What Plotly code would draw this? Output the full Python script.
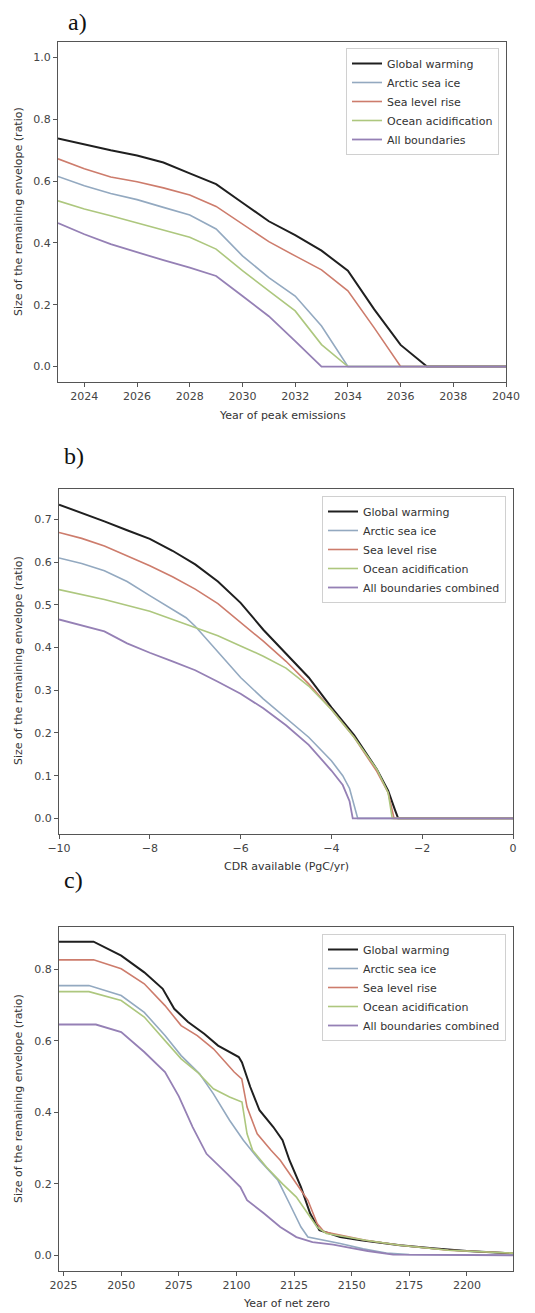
import plotly.graph_objects as go

# ---------------- Panel a: year of peak emissions ----------------
a_years = list(range(2023, 2041))
a_global = [0.738, 0.718, 0.700, 0.683, 0.660, 0.625, 0.590, 0.530, 0.470, 0.425, 0.375, 0.310, 0.185, 0.070, 0.0, 0.0, 0.0, 0.0]
a_arctic = [0.615, 0.585, 0.560, 0.540, 0.515, 0.490, 0.445, 0.358, 0.288, 0.228, 0.131, 0.0, 0.0, 0.0, 0.0, 0.0, 0.0, 0.0]
a_sealevel = [0.672, 0.640, 0.613, 0.598, 0.578, 0.555, 0.518, 0.461, 0.404, 0.358, 0.313, 0.245, 0.125, 0.0, 0.0, 0.0, 0.0, 0.0]
a_ocean = [0.536, 0.510, 0.488, 0.465, 0.442, 0.418, 0.380, 0.310, 0.245, 0.180, 0.071, 0.0, 0.0, 0.0, 0.0, 0.0, 0.0, 0.0]
a_all = [0.464, 0.428, 0.396, 0.369, 0.344, 0.320, 0.293, 0.228, 0.163, 0.082, 0.0, 0.0, 0.0, 0.0, 0.0, 0.0, 0.0, 0.0]

# ---------------- Panel b: CDR available ----------------
b_global_x = [-10, -9.5, -9, -8.5, -8, -7.5, -7, -6.5, -6, -5.5, -5, -4.5, -4, -3.5, -3, -2.75, -2.6, -2.53, 0]
b_global_y = [0.735, 0.716, 0.696, 0.675, 0.655, 0.627, 0.595, 0.555, 0.505, 0.442, 0.385, 0.330, 0.260, 0.195, 0.115, 0.065, 0.020, 0.0, 0.0]
b_arctic_x = [-10, -9.5, -9, -8.5, -8, -7.5, -7.2, -7, -6.75, -6.5, -6.25, -6, -5.5, -5, -4.5, -4, -3.75, -3.6, -3.5, -3.42, 0]
b_arctic_y = [0.610, 0.597, 0.580, 0.555, 0.522, 0.490, 0.470, 0.450, 0.420, 0.392, 0.360, 0.330, 0.280, 0.235, 0.190, 0.135, 0.100, 0.070, 0.030, 0.0, 0.0]
b_sealevel_x = [-10, -9.5, -9, -8.5, -8, -7.5, -7, -6.5, -6, -5.5, -5, -4.5, -4, -3.5, -3, -2.75, -2.62, 0]
b_sealevel_y = [0.670, 0.656, 0.638, 0.615, 0.592, 0.566, 0.537, 0.503, 0.460, 0.415, 0.368, 0.315, 0.255, 0.190, 0.110, 0.060, 0.0, 0.0]
b_ocean_x = [-10, -9, -8, -7, -6.5, -6, -5.5, -5, -4.5, -4, -3.5, -3, -2.75, -2.66, 0]
b_ocean_y = [0.536, 0.513, 0.485, 0.448, 0.428, 0.404, 0.380, 0.352, 0.310, 0.255, 0.190, 0.115, 0.060, 0.0, 0.0]
b_all_x = [-10, -9.5, -9, -8.5, -8, -7.5, -7, -6.5, -6, -5.5, -5, -4.5, -4.25, -4, -3.75, -3.6, -3.53, 0]
b_all_y = [0.466, 0.452, 0.438, 0.410, 0.388, 0.368, 0.347, 0.320, 0.292, 0.258, 0.218, 0.172, 0.142, 0.112, 0.078, 0.040, 0.0, 0.0]

# ---------------- Panel c: year of net zero ----------------
c_global_x = [2023, 2038, 2050, 2060, 2068, 2073, 2079, 2086, 2092, 2101, 2102.4, 2106, 2110, 2116, 2120, 2123, 2128, 2132, 2136, 2145, 2154, 2171, 2185, 2200, 2220]
c_global_y = [0.878, 0.878, 0.839, 0.792, 0.746, 0.690, 0.653, 0.620, 0.587, 0.555, 0.540, 0.471, 0.406, 0.359, 0.322, 0.266, 0.191, 0.117, 0.070, 0.051, 0.042, 0.028, 0.020, 0.012, 0.005]
c_arctic_x = [2023, 2036, 2050, 2060, 2069, 2076, 2084, 2090, 2097, 2103, 2110, 2118, 2123, 2128, 2131, 2136, 2145, 2155, 2165, 2175, 2220]
c_arctic_y = [0.755, 0.755, 0.727, 0.680, 0.615, 0.559, 0.508, 0.452, 0.378, 0.322, 0.266, 0.210, 0.145, 0.079, 0.051, 0.045, 0.033, 0.018, 0.006, 0.002, 0.0]
c_sealevel_x = [2023, 2038, 2050, 2060, 2069, 2076, 2083, 2090, 2099, 2102.3, 2104.6, 2109, 2115, 2119, 2125, 2131, 2135, 2138, 2156, 2171, 2192, 2220]
c_sealevel_y = [0.827, 0.827, 0.802, 0.760, 0.699, 0.643, 0.615, 0.578, 0.513, 0.494, 0.415, 0.340, 0.294, 0.266, 0.210, 0.154, 0.089, 0.066, 0.042, 0.028, 0.014, 0.006]
c_ocean_x = [2023, 2036, 2050, 2060, 2069, 2076, 2083, 2090, 2097, 2102.4, 2104.6, 2107, 2113, 2120, 2126, 2131, 2135, 2139, 2156, 2171, 2192, 2220]
c_ocean_y = [0.738, 0.738, 0.713, 0.667, 0.601, 0.550, 0.513, 0.466, 0.443, 0.429, 0.340, 0.294, 0.247, 0.200, 0.163, 0.117, 0.079, 0.061, 0.042, 0.028, 0.014, 0.006]
c_all_x = [2023, 2039, 2050, 2060, 2069, 2075, 2081, 2087, 2096, 2101.7, 2104.6, 2112, 2119, 2126, 2133, 2142, 2150, 2157, 2168, 2220]
c_all_y = [0.646, 0.646, 0.625, 0.569, 0.513, 0.445, 0.359, 0.284, 0.228, 0.191, 0.154, 0.117, 0.079, 0.051, 0.037, 0.030, 0.020, 0.012, 0.002, 0.0]

names_a = ["Global warming", "Arctic sea ice", "Sea level rise", "Ocean acidification", "All boundaries"]
names_bc = ["Global warming", "Arctic sea ice", "Sea level rise", "Ocean acidification", "All boundaries combined"]
colors = ["#1f1f1f", "#93a9c0", "#cd7c6c", "#adc77e", "#9580b5"]
widths = [2.0, 1.6, 1.6, 1.6, 1.8]

W, H = 535, 1313
def px_x(p):
    return p / W
def px_y(p):
    return 1 - p / H

fig = go.Figure()

panels = [
    (1, "legend", names_a, [(a_years, a_global), (a_years, a_arctic), (a_years, a_sealevel), (a_years, a_ocean), (a_years, a_all)]),
    (2, "legend2", names_bc, [(b_global_x, b_global_y), (b_arctic_x, b_arctic_y), (b_sealevel_x, b_sealevel_y), (b_ocean_x, b_ocean_y), (b_all_x, b_all_y)]),
    (3, "legend3", names_bc, [(c_global_x, c_global_y), (c_arctic_x, c_arctic_y), (c_sealevel_x, c_sealevel_y), (c_ocean_x, c_ocean_y), (c_all_x, c_all_y)]),
]
for idx, leg, names, series in panels:
    sfx = "" if idx == 1 else str(idx)
    for (xs, ys), name, col, w in zip(series, names, colors, widths):
        fig.add_trace(go.Scatter(x=xs, y=ys, mode="lines", name=name,
                                 line=dict(color=col, width=w),
                                 xaxis="x" + sfx, yaxis="y" + sfx, legend=leg,
                                 hoverinfo="skip"))

tickfont = dict(family="DejaVu Sans", size=11, color="#444")
axis_common = dict(showgrid=False, zeroline=False, showline=True, linecolor="#555",
                   linewidth=1, mirror=True, ticks="outside", ticklen=4, tickcolor="#555",
                   tickfont=tickfont, automargin=False)

fig.update_layout(
    width=W, height=H, margin=dict(l=0, r=0, t=0, b=0, autoexpand=False),
    paper_bgcolor="white", plot_bgcolor="white",
    xaxis=dict(domain=[px_x(58), px_x(506)], range=[2023, 2040], tickvals=list(range(2024, 2041, 2)),
               anchor="y", **axis_common),
    yaxis=dict(domain=[px_y(382), px_y(42)], range=[-0.05, 1.05], tickvals=[0, 0.2, 0.4, 0.6, 0.8, 1.0],
               tickformat=".1f", anchor="x", **axis_common),
    xaxis2=dict(domain=[px_x(59), px_x(513)], range=[-10, 0], tickvals=[-10, -8, -6, -4, -2, 0],
                anchor="y2", **axis_common),
    yaxis2=dict(domain=[px_y(834), px_y(489)], range=[-0.0367, 0.7717],
                tickvals=[0, 0.1, 0.2, 0.3, 0.4, 0.5, 0.6, 0.7], tickformat=".1f", anchor="x2", **axis_common),
    xaxis3=dict(domain=[px_x(59), px_x(513)], range=[2023, 2220], tickvals=list(range(2025, 2201, 25)),
                anchor="y3", **axis_common),
    yaxis3=dict(domain=[px_y(1271), px_y(927)], range=[-0.044, 0.919],
                tickvals=[0, 0.2, 0.4, 0.6, 0.8], tickformat=".1f", anchor="x3", **axis_common),
    showlegend=True,
)

leg_common = dict(xanchor="right", yanchor="top", bgcolor="rgba(255,255,255,0.9)",
                  bordercolor="#d0d0d0", borderwidth=1,
                  font=dict(family="DejaVu Sans", size=11, color="#333"),
                  itemwidth=30, tracegroupgap=0)
fig.update_layout(
    legend=dict(x=px_x(499), y=px_y(48), **leg_common),
    legend2=dict(x=px_x(506), y=px_y(496), **leg_common),
    legend3=dict(x=px_x(506), y=px_y(934), **leg_common),
)

ann = []
title_font = dict(family="DejaVu Sans", size=11, color="#333")
for yc in [212, 661, 1099]:
    ann.append(dict(text="Size of the remaining envelope (ratio)", x=px_x(18), y=px_y(yc),
                    xref="paper", yref="paper", showarrow=False, textangle=-90,
                    xanchor="center", yanchor="middle", font=title_font))
for txt, xc, yc in [("Year of peak emissions", 282, 415), ("CDR available (PgC/yr)", 286, 867),
                    ("Year of net zero", 286, 1303)]:
    ann.append(dict(text=txt, x=px_x(xc), y=px_y(yc), xref="paper", yref="paper",
                    showarrow=False, xanchor="center", yanchor="middle", font=title_font))
for txt, xl, yc in [("a)", 66, 22), ("b)", 62, 456), ("c)", 62, 880)]:
    ann.append(dict(text=txt, x=px_x(xl), y=px_y(yc), xref="paper", yref="paper",
                    showarrow=False, xanchor="left", yanchor="middle",
                    font=dict(family="Liberation Serif", size=24, color="#111")))
fig.update_layout(annotations=ann)

fig.write_html("out.html", config={"displayModeBar": False},
               post_script="document.body.style.margin='0';document.body.style.padding='0';document.body.style.overflow='hidden';")
